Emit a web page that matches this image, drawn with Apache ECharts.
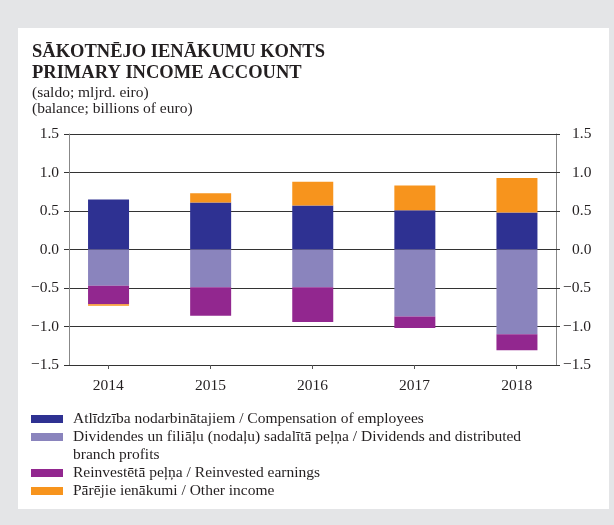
<!DOCTYPE html>
<html>
<head>
<meta charset="utf-8">
<script src="https://cdn.jsdelivr.net/npm/echarts@6/dist/echarts.min.js"></script>
<style>
  html, body { margin: 0; padding: 0; background: #e4e5e7; }
  #chart { width: 614px; height: 525px; }
</style>
</head>
<body>
<div id="chart"></div>
<script>
// dati (mljrd. eiro)
const years = ['2014', '2015', '2016', '2017', '2018'];
const compensation = [0.65, 0.61, 0.57, 0.51, 0.48];
const dividends = [-0.47, -0.49, -0.49, -0.87, -1.10];
const reinvested = [-0.24, -0.37, -0.45, -0.15, -0.21];
const otherIncome = [-0.02, 0.12, 0.31, 0.32, 0.45];

const yMin = -1.5, yMax = 1.5, yStep = 0.5;

const names = [
  'Atlīdzība nodarbinātajiem / Compensation of employees',
  'Dividendes un filiāļu (nodaļu) sadalītā peļņa / Dividends and distributed',
  'Reinvestētā peļņa / Reinvested earnings',
  'Pārējie ienākumi / Other income'
];
const colors = ['#2e3192', '#8a84bd', '#92278f', '#f7941d'];

const FONT = 'Liberation Serif';
const TXT = '#231f20';
const FS = 15.5;

function fmt(v) {
  return (v < 0 ? '\u2212' : '') + Math.abs(v).toFixed(1);
}

let myChart = echarts.init(document.getElementById('chart'));

let option = {
  backgroundColor: '#e4e5e7',
  animation: false,
  textStyle: { fontFamily: FONT, color: TXT },
  title: {
    left: 32,
    top: 42,
    padding: 0,
    text: 'SĀKOTNĒJO IENĀKUMU KONTS\nPRIMARY INCOME ACCOUNT',
    subtext: '(saldo; mljrd. eiro)\n(balance; billions of euro)',
    itemGap: 2,
    textStyle: { fontFamily: FONT, fontSize: 18.5, fontWeight: 'bold', color: TXT, lineHeight: 20.5 },
    subtextStyle: { fontFamily: FONT, fontSize: FS, color: TXT, lineHeight: 16 }
  },
  graphic: [
    { type: 'rect', z: -10, shape: { x: 18, y: 28, width: 591, height: 481 }, style: { fill: '#ffffff' } },
    { type: 'text', left: 73, top: 447, style: { text: 'branch profits', font: FS + 'px "Liberation Serif"', fill: TXT } }
  ],
  legend: [
    {
      orient: 'vertical', left: 31, top: 410, itemGap: 0, padding: 0,
      itemWidth: 32, itemHeight: 8, icon: 'rect',
      data: [names[0], names[1]],
      textStyle: { fontFamily: FONT, fontSize: FS, color: TXT, lineHeight: 18, padding: [0, 0, 0, 5] }
    },
    {
      orient: 'vertical', left: 31, top: 464, itemGap: 0, padding: 0,
      itemWidth: 32, itemHeight: 8, icon: 'rect',
      data: [names[2], names[3]],
      textStyle: { fontFamily: FONT, fontSize: FS, color: TXT, lineHeight: 18, padding: [0, 0, 0, 5] }
    }
  ],
  grid: [
    // frame with axes and gridlines
    { left: 69, right: 58, top: 134, bottom: 160 },
    // bars
    { left: 57.5, right: 46, top: 134, bottom: 160 }
  ],
  xAxis: [
    {
      type: 'value', gridIndex: 0, min: -0.385, max: 4.385,
      axisLine: { onZero: false, lineStyle: { color: '#333', width: 1 } },
      axisTick: { show: true, length: 4, customValues: [0, 1, 2, 3, 4], lineStyle: { color: '#555' } },
      axisLabel: {
        customValues: [0, 1, 2, 3, 4], margin: 13,
        formatter: v => years[Math.round(v)],
        fontFamily: FONT, fontSize: FS, color: TXT
      },
      splitLine: { show: false }
    },
    { type: 'category', gridIndex: 1, data: years, show: false }
  ],
  yAxis: [
    {
      type: 'value', gridIndex: 0, position: 'left', min: yMin, max: yMax, interval: yStep,
      axisLine: { show: true, onZero: false, lineStyle: { color: '#888' } },
      axisTick: { show: true, length: 5, lineStyle: { color: '#333' } },
      axisLabel: { margin: 10, formatter: fmt, fontFamily: FONT, fontSize: FS, color: TXT },
      splitLine: { show: true, lineStyle: { color: '#333', width: 1 } }
    },
    {
      type: 'value', gridIndex: 0, position: 'right', min: yMin, max: yMax, interval: yStep,
      axisLine: { show: true, onZero: false, lineStyle: { color: '#888' } },
      axisTick: { show: true, length: 4, lineStyle: { color: '#333' } },
      axisLabel: {
        margin: 7,
        formatter: v => v < 0 ? fmt(v) : '{s|}' + fmt(v),
        rich: { s: { width: 9 } },
        fontFamily: FONT, fontSize: FS, color: TXT
      },
      splitLine: { show: false }
    },
    { type: 'value', gridIndex: 1, min: yMin, max: yMax, show: false }
  ],
  series: [
    { name: names[0], type: 'bar', stack: 'total', xAxisIndex: 1, yAxisIndex: 2, barWidth: 41, data: compensation, itemStyle: { color: colors[0] } },
    { name: names[1], type: 'bar', stack: 'total', xAxisIndex: 1, yAxisIndex: 2, barWidth: 41, data: dividends, itemStyle: { color: colors[1] } },
    { name: names[2], type: 'bar', stack: 'total', xAxisIndex: 1, yAxisIndex: 2, barWidth: 41, data: reinvested, itemStyle: { color: colors[2] } },
    { name: names[3], type: 'bar', stack: 'total', xAxisIndex: 1, yAxisIndex: 2, barWidth: 41, data: otherIncome, itemStyle: { color: colors[3] } }
  ]
};

myChart.setOption(option);
</script>
</body>
</html>
